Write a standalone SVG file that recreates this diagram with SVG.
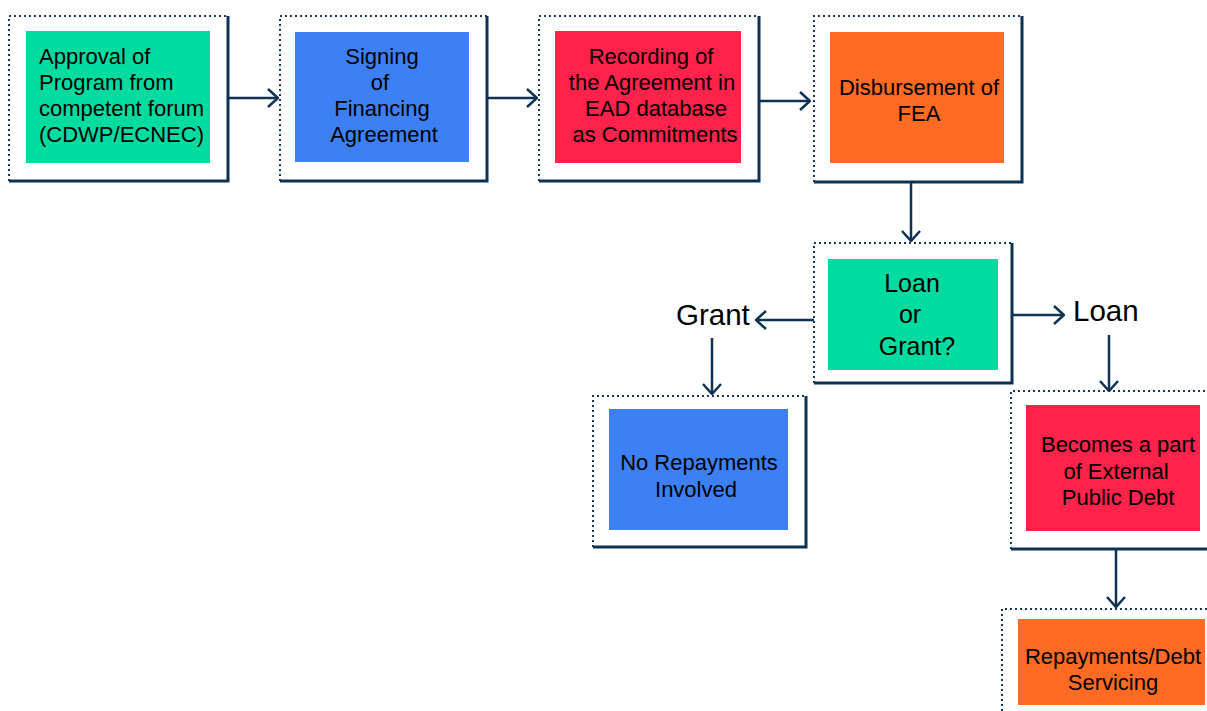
<svg xmlns="http://www.w3.org/2000/svg" width="1207" height="711" viewBox="0 0 1207 711">
<style>
.dot{fill:none;stroke:#17385a;stroke-width:2;stroke-dasharray:2 3}
.sol{fill:none;stroke:#0e3352;stroke-width:3}
.t{font-family:"Liberation Sans",Arial,sans-serif;font-size:22px;fill:#000;text-anchor:middle}
.lbl{font-family:"Liberation Sans",Arial,sans-serif;font-size:29.5px;fill:#000}
.c{fill:none;stroke:#0e3352;stroke-width:2.5}
.g{fill:#00dca0}.b{fill:#3d80f5}.r{fill:#ff224b}.o{fill:#ff6b22}
</style>
<defs>
<marker id="ah" viewBox="0 0 12 20" refX="11" refY="10" markerWidth="12" markerHeight="20" markerUnits="userSpaceOnUse" orient="auto">
<path d="M1,1 L11,10 L1,19" fill="none" stroke="#0e3352" stroke-width="2.5"/>
</marker>
</defs>
<g id="n1">
<path class="dot" d="M9,181 V16 H228"/><path class="sol" d="M228,16 V181 H9"/>
<rect class="g" x="26" y="31" width="184" height="132"/>
<text class="t" style="text-anchor:start" x="39" y="64">Approval of</text>
<text class="t" style="text-anchor:start" x="39" y="90">Program from</text>
<text class="t" style="text-anchor:start" x="39" y="116">competent forum</text>
<text class="t" style="text-anchor:start" x="39" y="142">(CDWP/ECNEC)</text>
</g>
<g id="n2">
<path class="dot" d="M280,181 V16 H487"/><path class="sol" d="M487,16 V181 H280"/>
<rect class="b" x="295" y="32" width="174" height="130"/>
<text class="t" x="382" y="64">Signing</text>
<text class="t" x="380" y="90">of</text>
<text class="t" x="382" y="116">Financing</text>
<text class="t" x="384" y="142">Agreement</text>
</g>
<g id="n3">
<path class="dot" d="M539,181 V16 H759"/><path class="sol" d="M759,16 V181 H539"/>
<rect class="r" x="555" y="31" width="186" height="132"/>
<text class="t" x="651" y="64">Recording of</text>
<text class="t" x="652" y="90">the Agreement in</text>
<text class="t" x="656" y="116">EAD database</text>
<text class="t" x="655" y="142">as Commitments</text>
</g>
<g id="n4">
<path class="dot" d="M814,182 V16 H1022"/><path class="sol" d="M1022,16 V182 H814"/>
<rect class="o" x="830" y="32" width="174" height="131"/>
<text class="t" x="919" y="95">Disbursement of</text>
<text class="t" x="919" y="121">FEA</text>
</g>
<g id="n5">
<path class="dot" d="M814,383 V243 H1012"/><path class="sol" d="M1012,243 V383 H814"/>
<rect class="g" x="828" y="259" width="170" height="111"/>
<text class="t" style="font-size:25px" x="912" y="292">Loan</text>
<text class="t" style="font-size:25px" x="910" y="323">or</text>
<text class="t" style="font-size:25px" x="917" y="355">Grant?</text>
</g>
<g id="n6">
<path class="dot" d="M593,547 V396 H806"/><path class="sol" d="M806,396 V547 H593"/>
<rect class="b" x="609" y="409" width="179" height="121"/>
<text class="t" x="699" y="470">No Repayments</text>
<text class="t" x="696" y="497">Involved</text>
</g>
<g id="n7">
<path class="dot" d="M1011,549 V391 H1207"/><path class="sol" d="M1011,549 H1207"/>
<rect class="r" x="1026" y="405" width="174" height="126"/>
<text class="t" x="1118" y="452">Becomes a part</text>
<text class="t" x="1116" y="479">of External</text>
<text class="t" x="1118" y="505">Public Debt</text>
</g>
<g id="n8">
<path class="dot" d="M1002,711 V609 H1207"/>
<rect class="o" x="1018" y="619" width="187" height="86"/>
<text class="t" x="1113" y="664">Repayments/Debt</text>
<text class="t" x="1113" y="690">Servicing</text>
</g>
<g id="labels">
<text class="lbl" x="676" y="325">Grant</text>
<text class="lbl" x="1073" y="321">Loan</text>
</g>
<g id="connectors">
<path class="c" d="M228,98 H278" marker-end="url(#ah)"/>
<path class="c" d="M487,98 H537" marker-end="url(#ah)"/>
<path class="c" d="M759,101 H810" marker-end="url(#ah)"/>
<path class="c" d="M911,182 V241" marker-end="url(#ah)"/>
<path class="c" d="M814,320 H756" marker-end="url(#ah)"/>
<path class="c" d="M712,338 V394" marker-end="url(#ah)"/>
<path class="c" d="M1012,315 H1064" marker-end="url(#ah)"/>
<path class="c" d="M1109,335 V391" marker-end="url(#ah)"/>
<path class="c" d="M1116,549 V607" marker-end="url(#ah)"/>
</g>
</svg>
